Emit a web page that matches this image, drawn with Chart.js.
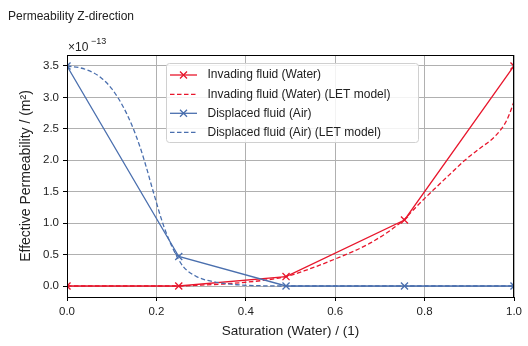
<!DOCTYPE html>
<html><head><meta charset="utf-8">
<script src="https://cdn.jsdelivr.net/npm/chart.js@4/dist/chart.umd.min.js"></script>
<style>html,body{margin:0;padding:0;background:#fff;}#wrap{width:528px;height:346px;position:relative;}</style>
</head><body><div id="wrap"><canvas id="c" width="528" height="346"></canvas></div>
<script>
const chartTitle = "Permeability Z-direction";
const xTitle = "Saturation (Water) / (1)";
const yTitle = "Effective Permeability / (m²)";
const xTicks = [0, 0.2, 0.4, 0.6, 0.8, 1.0];
const yTicks = [0, 0.5, 1.0, 1.5, 2.0, 2.5, 3.0, 3.5];
const seriesLabels = ["Invading fluid (Water)", "Invading fluid (Water) (LET model)", "Displaced fluid (Air)", "Displaced fluid (Air) (LET model)"];
const satMeasured = [0, 0.25, 0.49, 0.755, 1.0];
const kWater = [0, 0, 0.15, 1.05, 3.5];
const kAir = [3.5, 0.47, 0, 0, 0];
const satWaterLET = [0, 0.25, 0.30, 0.35, 0.40, 0.45, 0.49, 0.53, 0.60, 0.68, 0.753, 0.78, 0.82, 0.86, 0.89, 0.92, 0.96, 0.984, 1.0];
const kWaterLET = [0, 0, 0.015, 0.032, 0.06, 0.10, 0.15, 0.24, 0.43, 0.69, 1.05, 1.25, 1.53, 1.80, 2.0, 2.17, 2.40, 2.64, 2.93];
const satAirLET = [0, 0.03, 0.06, 0.08, 0.10, 0.125, 0.145, 0.163, 0.177, 0.193, 0.216, 0.238, 0.26, 0.29, 0.327, 0.38, 0.43, 0.5, 1.0];
const kAirLET = [3.5, 3.47, 3.39, 3.29, 3.14, 2.86, 2.56, 2.22, 1.90, 1.50, 0.96, 0.58, 0.31, 0.15, 0.07, 0.02, 0.005, 0, 0];

const RED = "#e8162c", BLUE = "#4a6fae";
const FONT = '"Liberation Sans", Arial, sans-serif';
const pts = (xs, ys) => xs.map((x, i) => ({x: x, y: ys[i]}));

const datasets = [
  {label: seriesLabels[0], data: pts(satMeasured, kWater), borderColor: RED, backgroundColor: RED, borderWidth: 1.3,
   pointStyle: 'crossRot', pointRadius: 5, pointBorderWidth: 1.3, order: 4, clip: 0, mk: true},
  {label: seriesLabels[1], data: pts(satWaterLET, kWaterLET), borderColor: RED, borderWidth: 1.3, borderDash: [4.5, 2.5],
   pointRadius: 0, cubicInterpolationMode: 'monotone', order: 3, clip: 0},
  {label: seriesLabels[2], data: pts(satMeasured, kAir), borderColor: BLUE, backgroundColor: BLUE, borderWidth: 1.3,
   pointStyle: 'crossRot', pointRadius: 5, pointBorderWidth: 1.3, order: 2, clip: 0, mk: true},
  {label: seriesLabels[3], data: pts(satAirLET, kAirLET), borderColor: BLUE, borderWidth: 1.3, borderDash: [4.5, 2.5],
   pointRadius: 0, cubicInterpolationMode: 'monotone', order: 1, clip: 0}
];

const decor = {
  id: 'decor',
  afterDraw(chart) {
    const ctx = chart.ctx, a = chart.chartArea;
    ctx.save();
    ctx.strokeStyle = '#000'; ctx.lineWidth = 1;
    ctx.strokeRect(Math.round(a.left) + 0.5, Math.round(a.top) + 0.5, Math.round(a.right - a.left) - 1, Math.round(a.bottom - a.top));
    ctx.fillStyle = '#222';
    ctx.font = '12px ' + FONT;
    ctx.textBaseline = 'middle'; ctx.textAlign = 'left';
    ctx.fillText(chartTitle, 8, 17);
    ctx.font = '12px ' + FONT;
    ctx.fillText('×10', 68, 47.5);
    ctx.font = '9px ' + FONT;
    ctx.fillText('−13', 91, 42);
    const bx = 166.5, by = 63.5, bw = 252, bh = 79, r = 3;
    ctx.fillStyle = 'rgba(255,255,255,0.85)';
    ctx.strokeStyle = '#d0d0d0'; ctx.lineWidth = 1;
    ctx.beginPath();
    ctx.moveTo(bx + r, by); ctx.lineTo(bx + bw - r, by); ctx.arcTo(bx + bw, by, bx + bw, by + r, r);
    ctx.lineTo(bx + bw, by + bh - r); ctx.arcTo(bx + bw, by + bh, bx + bw - r, by + bh, r);
    ctx.lineTo(bx + r, by + bh); ctx.arcTo(bx, by + bh, bx, by + bh - r, r);
    ctx.lineTo(bx, by + r); ctx.arcTo(bx, by, bx + r, by, r);
    ctx.closePath(); ctx.fill(); ctx.stroke();
    const rows = [75, 94.3, 113.3, 132.3];
    chart.data.datasets.forEach((ds, i) => {
      const y = rows[i];
      ctx.strokeStyle = ds.borderColor; ctx.lineWidth = ds.borderWidth;
      ctx.setLineDash(ds.borderDash || []);
      ctx.beginPath(); ctx.moveTo(170, y); ctx.lineTo(197, y); ctx.stroke();
      ctx.setLineDash([]);
      if (ds.mk) {
        const d = 3.5;
        ctx.beginPath();
        ctx.moveTo(183.5 - d, y - d); ctx.lineTo(183.5 + d, y + d);
        ctx.moveTo(183.5 - d, y + d); ctx.lineTo(183.5 + d, y - d);
        ctx.stroke();
      }
      ctx.fillStyle = '#222';
      ctx.font = '12px ' + FONT;
      ctx.textBaseline = 'middle';
      ctx.fillText(ds.label, 207.5, y);
    });
    ctx.restore();
  }
};

new Chart(document.getElementById('c'), {
  type: 'line',
  data: {datasets: datasets},
  options: {
    responsive: false, animation: false, devicePixelRatio: 1,
    layout: {padding: {left: 14, right: 14, top: 55, bottom: 0}},
    plugins: {legend: {display: false}, tooltip: {enabled: false}, title: {display: false}},
    scales: {
      x: {
        type: 'linear', min: 0, max: 1,
        afterBuildTicks: s => { s.ticks = xTicks.map(v => ({value: v})); },
        afterFit: s => { s.height = 49; },
        grid: {color: '#b0b0b0', lineWidth: 1, tickColor: '#000', tickLength: 4},
        border: {color: '#000', width: 1},
        ticks: {color: '#222', font: {family: FONT, size: 11.5}, padding: 4, maxRotation: 0,
                callback: v => Number(v).toFixed(1)},
        title: {display: true, text: xTitle, color: '#222', font: {family: FONT, size: 13.5}, padding: {top: 2, bottom: 7}}
      },
      y: {
        type: 'linear', min: -0.175, max: 3.675,
        afterBuildTicks: s => { s.ticks = yTicks.map(v => ({value: v})); },
        afterFit: s => { s.width = 53; },
        grid: {color: '#b0b0b0', lineWidth: 1, tickColor: '#000', tickLength: 4},
        border: {color: '#000', width: 1},
        ticks: {color: '#222', font: {family: FONT, size: 11.5}, padding: 4,
                callback: v => Number(v).toFixed(1)},
        title: {display: true, text: yTitle, color: '#222', font: {family: FONT, size: 14}, padding: {bottom: 4}}
      }
    }
  },
  plugins: [decor]
});
</script></body></html>
